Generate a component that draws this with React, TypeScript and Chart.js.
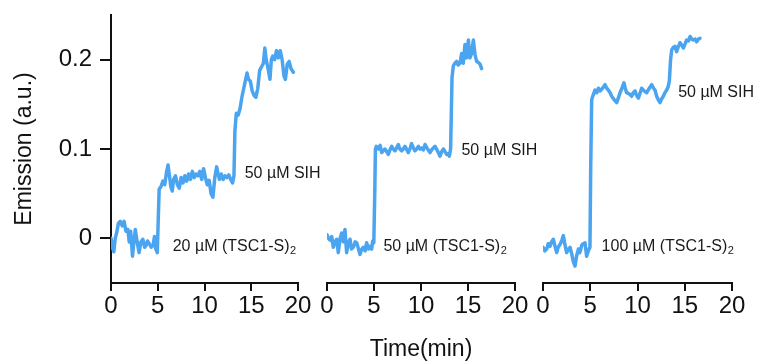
import React, { useEffect, useRef } from 'react';
import { Chart, registerables } from 'chart.js';

Chart.register(...registerables);

// ---- data ----
const TIME_TICKS = [0, 5, 10, 15, 20];
const EMISSION_TICKS = [0, 0.1, 0.2];

// [time (min), emission (a.u.)]
const panel1Trace: [number, number][] = [
  [0, 0.0], [0.15, -0.01], [0.3, -0.015], [0.45, 0.0], [0.6, 0.006], [0.8, 0.017], [1.0, 0.019],
  [1.2, 0.014], [1.4, 0.019], [1.6, 0.008], [1.8, 0.01], [1.95, -0.004], [2.1, 0.008], [2.3, -0.02],
  [2.45, -0.004], [2.6, 0.01], [2.8, -0.004], [3.0, -0.016], [3.2, -0.004], [3.4, -0.001], [3.6, -0.01],
  [3.75, -0.008], [3.9, -0.003], [4.1, -0.006], [4.3, -0.01], [4.5, -0.008], [4.65, 0.002], [4.8, -0.012],
  [4.95, -0.016], [5.05, 0.02], [5.15, 0.055], [5.35, 0.058], [5.55, 0.064], [5.75, 0.06], [5.95, 0.075],
  [6.1, 0.082], [6.25, 0.07], [6.4, 0.058], [6.55, 0.053], [6.7, 0.066], [6.9, 0.07], [7.1, 0.06],
  [7.3, 0.056], [7.5, 0.068], [7.7, 0.062], [7.9, 0.07], [8.1, 0.064], [8.3, 0.072], [8.5, 0.066],
  [8.7, 0.075], [8.9, 0.068], [9.1, 0.072], [9.3, 0.07], [9.5, 0.075], [9.7, 0.066], [9.9, 0.078],
  [10.1, 0.068], [10.3, 0.06], [10.5, 0.065], [10.7, 0.05], [10.9, 0.046], [11.1, 0.068], [11.3, 0.08],
  [11.45, 0.072], [11.6, 0.066], [11.8, 0.072], [12.0, 0.066], [12.2, 0.07], [12.4, 0.068], [12.6, 0.071],
  [12.8, 0.066], [13.0, 0.062], [13.15, 0.07], [13.25, 0.12], [13.4, 0.14], [13.6, 0.138], [13.8, 0.145],
  [14.0, 0.158], [14.2, 0.168], [14.4, 0.178], [14.55, 0.185], [14.7, 0.178], [14.9, 0.176], [15.1, 0.165],
  [15.3, 0.16], [15.5, 0.158], [15.7, 0.168], [15.9, 0.188], [16.1, 0.192], [16.3, 0.196], [16.45, 0.213],
  [16.6, 0.2], [16.8, 0.19], [17.0, 0.178], [17.15, 0.2], [17.3, 0.204], [17.5, 0.2], [17.7, 0.21],
  [17.9, 0.202], [18.1, 0.21], [18.3, 0.2], [18.5, 0.182], [18.65, 0.178], [18.85, 0.195], [19.05, 0.198],
  [19.25, 0.19], [19.5, 0.186],
];

const panel2Trace: [number, number][] = [
  [0, 0.004], [0.15, 0.0], [0.32, -0.002], [0.5, 0.002], [0.67, -0.01], [0.85, -0.004], [1.03, -0.001],
  [1.2, -0.016], [1.4, 0.0], [1.56, 0.006], [1.75, -0.004], [1.91, 0.01], [2.09, -0.016], [2.25, -0.006],
  [2.45, -0.001], [2.6, -0.012], [2.8, -0.01], [3.0, -0.004], [3.16, -0.005], [3.35, -0.012], [3.51, -0.018],
  [3.7, -0.012], [3.87, -0.01], [4.05, -0.014], [4.22, -0.005], [4.4, -0.012], [4.57, -0.009], [4.75, -0.012],
  [4.86, -0.003], [4.98, -0.005], [5.08, 0.05], [5.15, 0.1], [5.25, 0.103], [5.5, 0.1], [5.65, 0.104],
  [5.82, 0.096], [6.0, 0.098], [6.17, 0.1], [6.35, 0.097], [6.52, 0.094], [6.7, 0.099], [6.88, 0.103],
  [7.05, 0.1], [7.23, 0.098], [7.4, 0.101], [7.59, 0.105], [7.75, 0.1], [7.94, 0.098], [8.1, 0.1],
  [8.3, 0.103], [8.5, 0.099], [8.65, 0.096], [8.85, 0.101], [9.0, 0.106], [9.2, 0.101], [9.36, 0.098],
  [9.55, 0.1], [9.72, 0.103], [9.9, 0.1], [10.07, 0.101], [10.25, 0.099], [10.43, 0.105], [10.7, 0.1],
  [10.96, 0.096], [11.2, 0.1], [11.49, 0.103], [11.75, 0.098], [12.02, 0.092], [12.2, 0.097], [12.38, 0.1],
  [12.55, 0.097], [12.73, 0.094], [12.9, 0.095], [13.01, 0.092], [13.15, 0.1], [13.3, 0.18], [13.44, 0.193],
  [13.6, 0.196], [13.79, 0.198], [13.95, 0.194], [14.15, 0.196], [14.33, 0.207], [14.5, 0.196], [14.68, 0.217],
  [14.86, 0.202], [15.04, 0.222], [15.21, 0.202], [15.39, 0.207], [15.57, 0.222], [15.74, 0.206], [15.92, 0.198],
  [16.1, 0.197], [16.28, 0.195], [16.45, 0.19],
];

const panel3Trace: [number, number][] = [
  [0, -0.01], [0.2, -0.014], [0.39, -0.012], [0.55, -0.006], [0.74, -0.009], [0.9, -0.004], [1.09, -0.001],
  [1.25, -0.008], [1.45, -0.016], [1.6, -0.01], [1.8, -0.007], [2.0, -0.002], [2.15, 0.003], [2.3, -0.006],
  [2.5, -0.016], [2.7, -0.012], [2.86, -0.01], [3.05, -0.018], [3.21, -0.026], [3.39, -0.031], [3.55, -0.02],
  [3.74, -0.012], [3.9, -0.016], [4.09, -0.008], [4.25, -0.006], [4.44, -0.005], [4.62, -0.02], [4.8, -0.014],
  [4.97, -0.01], [5.05, 0.08], [5.15, 0.155], [5.26, 0.159], [5.5, 0.166], [5.7, 0.163], [5.86, 0.168],
  [6.03, 0.165], [6.3, 0.168], [6.56, 0.172], [6.75, 0.168], [6.91, 0.166], [7.1, 0.163], [7.27, 0.159],
  [7.55, 0.155], [7.8, 0.152], [8.0, 0.158], [8.15, 0.163], [8.35, 0.168], [8.57, 0.174], [8.7, 0.168],
  [8.85, 0.163], [9.1, 0.162], [9.38, 0.159], [9.55, 0.163], [9.74, 0.165], [9.9, 0.16], [10.09, 0.157],
  [10.25, 0.162], [10.44, 0.168], [10.7, 0.165], [10.97, 0.163], [11.25, 0.168], [11.5, 0.172], [11.7, 0.168],
  [11.85, 0.166], [12.03, 0.159], [12.2, 0.155], [12.38, 0.152], [12.55, 0.156], [12.73, 0.159], [12.9, 0.163],
  [13.09, 0.166], [13.25, 0.17], [13.37, 0.176], [13.5, 0.2], [13.62, 0.211], [13.8, 0.214], [13.97, 0.215],
  [14.14, 0.209], [14.3, 0.214], [14.5, 0.219], [14.7, 0.216], [14.85, 0.213], [15.05, 0.218], [15.2, 0.222],
  [15.4, 0.221], [15.56, 0.226], [15.75, 0.223], [15.91, 0.222], [16.1, 0.223], [16.26, 0.22], [16.45, 0.223],
  [16.61, 0.224],
];

const panelAxes = ['x1', 'x2', 'x3'];
const panelTraces = [panel1Trace, panel2Trace, panel3Trace];

// annotation labels placed in data coordinates of each panel
const annotations: { axis: string; t: number; v: number; text: string; sub?: string }[] = [
  { axis: 'x1', t: 14.3, v: 0.072, text: '50 µM SIH' },
  { axis: 'x1', t: 6.6, v: -0.009, text: '20 µM (TSC1-S)', sub: '2' },
  { axis: 'x2', t: 14.3, v: 0.098, text: '50 µM SIH' },
  { axis: 'x2', t: 6.0, v: -0.009, text: '50 µM (TSC1-S)', sub: '2' },
  { axis: 'x3', t: 14.3, v: 0.163, text: '50 µM SIH' },
  { axis: 'x3', t: 6.2, v: -0.009, text: '100 µM (TSC1-S)', sub: '2' },
];

const FONT = "'Liberation Sans', Arial, Helvetica, sans-serif";
const LINE_COLOR = '#4aa4f0';
const AXIS_COLOR = '#111111';

const annotationPlugin = {
  id: 'panelAnnotations',
  afterDatasetsDraw(chart: any) {
    const ctx = chart.ctx;
    const yScale = chart.scales.y;
    ctx.save();
    ctx.fillStyle = '#1a1a1a';
    ctx.textBaseline = 'middle';
    ctx.textAlign = 'left';
    for (const a of annotations) {
      const xs = chart.scales[a.axis];
      const x = xs.getPixelForValue(a.t);
      const y = yScale.getPixelForValue(a.v);
      ctx.font = `16px ${FONT}`;
      ctx.fillText(a.text, x, y);
      if (a.sub) {
        const w = ctx.measureText(a.text).width;
        ctx.font = `11px ${FONT}`;
        ctx.fillText(a.sub, x + w + 0.5, y + 5);
      }
    }
    ctx.restore();
  },
};

function xAxis(weight: number, showTitle: boolean) {
  return {
    type: 'linear',
    axis: 'x',
    position: 'bottom',
    stack: 'panels',
    stackWeight: weight,
    min: 0,
    max: 20,
    offset: false,
    afterBuildTicks: (scale: any) => {
      scale.ticks = TIME_TICKS.map((v) => ({ value: v }));
    },
    afterFit: (scale: any) => {
      scale.height = 80;
    },
    ticks: {
      autoSkip: false,
      maxRotation: 0,
      minRotation: 0,
      padding: 1,
      color: AXIS_COLOR,
      font: { size: 24, family: FONT },
      callback: (v: any) => String(v),
    },
    grid: {
      display: true,
      drawOnChartArea: false,
      drawTicks: true,
      tickLength: 8,
      lineWidth: 2,
      color: AXIS_COLOR,
    },
    border: { display: true, color: AXIS_COLOR, width: 2 },
    title: {
      display: showTitle,
      text: 'Time(min)',
      color: AXIS_COLOR,
      font: { size: 23, family: FONT },
      padding: { top: 0, bottom: 0 },
    },
  };
}

function gapAxis(weight: number) {
  return {
    type: 'linear',
    axis: 'x',
    position: 'bottom',
    stack: 'panels',
    stackWeight: weight,
    display: false,
    min: 0,
    max: 1,
  };
}

export default function App() {
  const canvasRef = useRef<HTMLCanvasElement | null>(null);

  useEffect(() => {
    if (!canvasRef.current) return;
    const datasets = panelTraces.map((trace, i) => ({
      label: `panel ${i + 1}`,
      data: trace.map(([t, v]) => ({ x: t, y: v })),
      xAxisID: panelAxes[i],
      yAxisID: 'y',
      borderColor: LINE_COLOR,
      backgroundColor: LINE_COLOR,
      borderWidth: 3.5,
      pointRadius: 0,
      tension: 0,
      fill: false,
      borderJoinStyle: 'round',
      borderCapStyle: 'round',
    }));

    const chart = new Chart(canvasRef.current, {
      type: 'line',
      data: { datasets } as any,
      options: {
        animation: false,
        responsive: false,
        maintainAspectRatio: false,
        layout: { padding: { left: 0, right: 25, top: 15, bottom: 0 } },
        plugins: {
          legend: { display: false },
          tooltip: { enabled: false },
        },
        scales: {
          y: {
            type: 'linear',
            position: 'left',
            min: -0.05,
            max: 0.25,
            afterBuildTicks: (scale: any) => {
              scale.ticks = EMISSION_TICKS.map((v) => ({ value: v }));
            },
            afterFit: (scale: any) => {
              scale.width = 111;
              scale.paddingTop = 0;
              scale.paddingBottom = 0;
            },
            ticks: {
              padding: 8,
              color: AXIS_COLOR,
              font: { size: 24, family: FONT },
              callback: (v: any) => (v === 0 ? '0' : String(Math.round(v * 10) / 10)),
            },
            grid: {
              display: true,
              drawOnChartArea: false,
              drawTicks: true,
              tickLength: 11,
              lineWidth: 2,
              color: AXIS_COLOR,
            },
            border: { display: true, color: AXIS_COLOR, width: 2 },
            title: {
              display: true,
              text: 'Emission (a.u.)',
              color: AXIS_COLOR,
              font: { size: 23, family: FONT },
              padding: { top: 11, bottom: 0 },
            },
          },
          x1: xAxis(187, false),
          g1: gapAxis(29),
          x2: xAxis(188, true),
          g2: gapAxis(28),
          x3: xAxis(189, false),
        } as any,
      },
      plugins: [annotationPlugin],
    });
    return () => chart.destroy();
  }, []);

  return (
    <div style={{ position: 'fixed', left: 0, top: 0, width: 757, height: 363, background: '#ffffff' }}>
      <canvas ref={canvasRef} width={757} height={363} style={{ width: 757, height: 363, display: 'block' }} />
    </div>
  );
}
